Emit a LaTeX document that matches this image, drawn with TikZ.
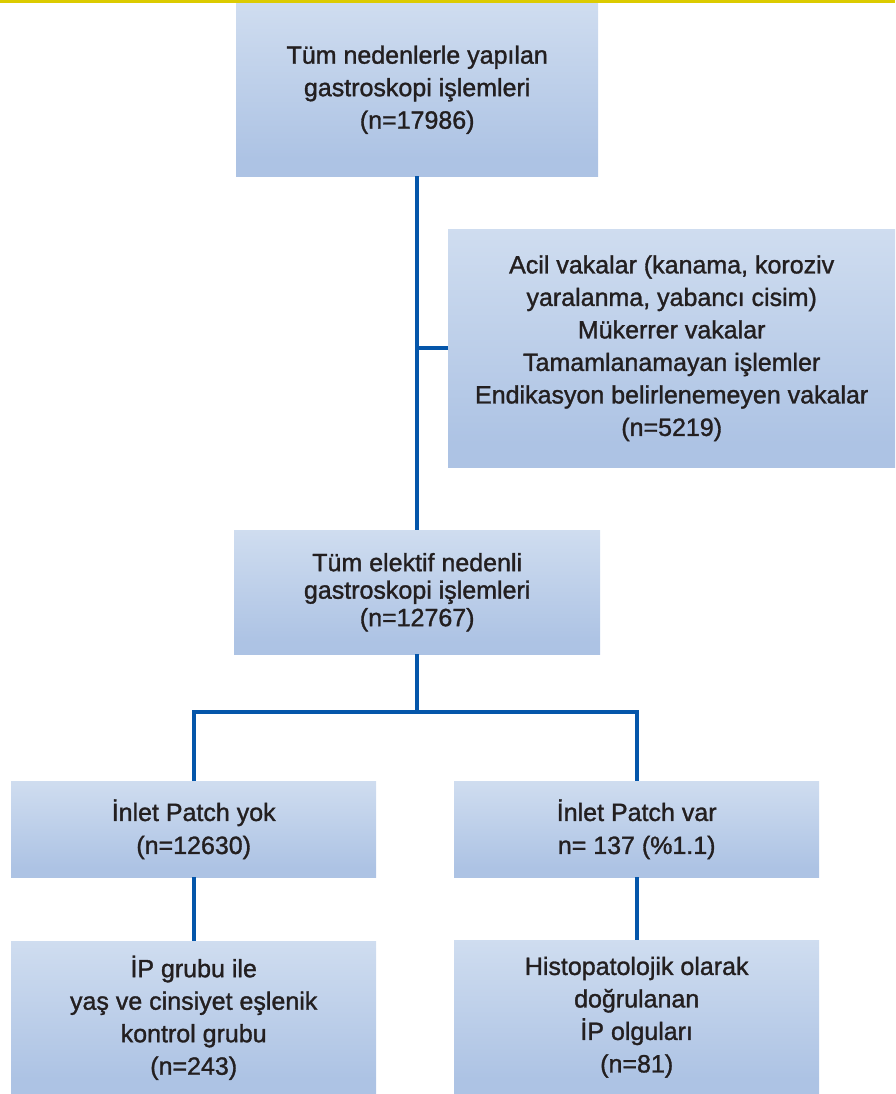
\documentclass[tikz,border=0pt]{standalone}
\usepackage{fontspec}
\setmainfont{Liberation Sans}
\newfontfamily\medfont{Liberation Sans}[FakeBold=1.3]
\definecolor{boxtop}{HTML}{E2EBF6}
\definecolor{boxbot}{HTML}{ADC3E4}
\definecolor{linkblue}{HTML}{0556AA}
\definecolor{baryellow}{HTML}{DCCB00}
\definecolor{txt}{HTML}{231F20}
\pgfdeclareverticalshading{boxshade}{100bp}{color(0bp)=(boxbot); color(30bp)=(boxbot); color(100bp)=(boxtop)}
\begin{document}
\begin{tikzpicture}[x=1pt,y=-1pt,
  fbox/.style={shading=boxshade, draw=none, inner sep=0pt, anchor=north west,
    align=center, text=txt, font=\medfont\fontsize{25}{32.5}\selectfont},
  link/.style={draw=linkblue, line width=4pt}]
\useasboundingbox (0,0) rectangle (895,1094);
\fill[baryellow] (0,0) rectangle (895,3.5);
\node[fbox, minimum width=362pt, minimum height=173pt] (b1) at (236,3)
  {Tüm nedenlerle yapılan\\gastroskopi işlemleri\\(n=17986)};
\node[fbox, minimum width=447pt, minimum height=238pt] (b2) at (448,229)
  {Acil vakalar (kanama, koroziv\\yaralanma, yabancı cisim)\\Mükerrer vakalar\\Tamamlanamayan işlemler\\Endikasyon belirlenemeyen vakalar\\(n=5219)};
\node[fbox, minimum width=366pt, minimum height=124pt, font=\medfont\fontsize{25}{27.5}\selectfont] (b3) at (234,530)
  {Tüm elektif nedenli\\gastroskopi işlemleri\\(n=12767)};
\node[fbox, minimum width=365pt, minimum height=96pt, font=\medfont\fontsize{25}{33}\selectfont] (b4) at (11,781)
  {İnlet Patch yok\\(n=12630)};
\node[fbox, minimum width=365pt, minimum height=96pt, font=\medfont\fontsize{25}{33}\selectfont] (b5) at (454,781)
  {İnlet Patch var\\n= 137 (\%1.1)};
\node[fbox, minimum width=365pt, minimum height=153pt] (b6) at (11,941)
  {İP grubu ile\\yaş ve cinsiyet eşlenik\\kontrol grubu\\(n=243)};
\node[fbox, minimum width=365pt, minimum height=154pt] (b7) at (454,940)
  {Histopatolojik olarak\\doğrulanan\\İP olguları\\(n=81)};
\coordinate (j) at (b1.south |- 0,712);
\draw[link] (b1.south) -- (b3.north);
\draw[link] (b2.west) -- (b2.west -| b1.south);
\draw[link] (b3.south) -- (j);
\draw[link] (b4.north) |- (j) -| (b5.north);
\draw[link] (b4.south) -- (b6.north);
\draw[link] (b5.south) -- (b7.north);
\end{tikzpicture}
\end{document}
